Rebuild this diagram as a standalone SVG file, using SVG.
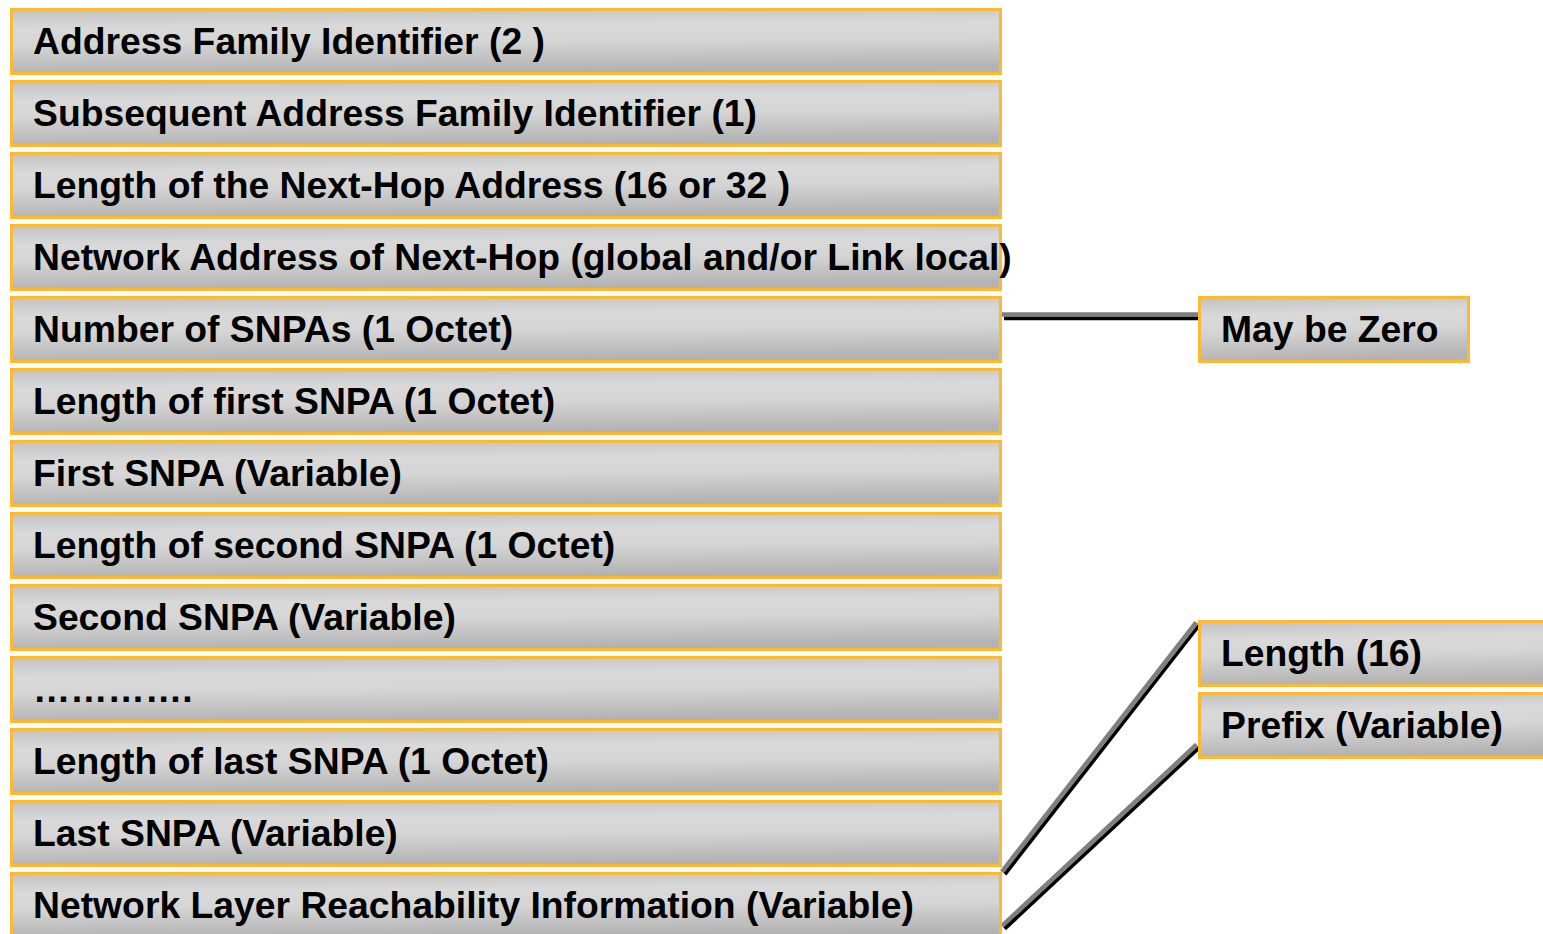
<svg xmlns="http://www.w3.org/2000/svg" width="1543" height="934" viewBox="0 0 1543 934">
<defs>
<linearGradient id="g" x1="0" y1="0" x2="0.12" y2="1">
<stop offset="0" stop-color="#c2c2c2"/>
<stop offset="0.3" stop-color="#d9d9d9"/>
<stop offset="0.55" stop-color="#d5d5d5"/>
<stop offset="1" stop-color="#b3b3b3"/>
</linearGradient>
<style>
.b{fill:url(#g);stroke:#fdb834;stroke-width:3}
.t{font-family:"Liberation Sans",Arial,sans-serif;font-weight:bold;font-size:37.3px;fill:#000}
.sg{stroke:#7f7f7f;stroke-width:4.5;fill:none}
.sk{stroke:#000;stroke-width:3.5;fill:none}
</style>
</defs>
<rect width="1543" height="934" fill="#fff"/>
<g id="connectors">
<line class="sg" x1="1002" y1="314.5" x2="1198" y2="314.5"/>
<line class="sk" x1="1004" y1="318.5" x2="1198" y2="318.5"/>
<line class="sg" x1="1001.8" y1="871.8" x2="1196.2" y2="622.3"/>
<line class="sk" x1="1005" y1="874.3" x2="1199" y2="625.5"/>
<line class="sg" x1="1002" y1="926" x2="1196.6" y2="744.5"/>
<line class="sk" x1="1004.7" y1="928.9" x2="1199.3" y2="747.6"/>
</g>
<g id="n1"><rect class="b" x="11.5" y="9.5" width="989" height="64"/><text class="t" x="33" y="54">Address Family Identifier (2 )</text></g>
<g id="n2"><rect class="b" x="11.5" y="81.5" width="989" height="64"/><text class="t" x="33" y="126">Subsequent Address Family Identifier (1)</text></g>
<g id="n3"><rect class="b" x="11.5" y="153.5" width="989" height="64"/><text class="t" x="33" y="198">Length of the Next-Hop Address (16 or 32 )</text></g>
<g id="n4"><rect class="b" x="11.5" y="225.5" width="989" height="64"/><text class="t" x="33" y="270">Network Address of Next-Hop (global and/or Link local)</text></g>
<g id="n5"><rect class="b" x="11.5" y="297.5" width="989" height="64"/><text class="t" x="33" y="342">Number of SNPAs (1 Octet)</text></g>
<g id="n6"><rect class="b" x="11.5" y="369.5" width="989" height="64"/><text class="t" x="33" y="414">Length of first SNPA (1 Octet)</text></g>
<g id="n7"><rect class="b" x="11.5" y="441.5" width="989" height="64"/><text class="t" x="33" y="486">First SNPA (Variable)</text></g>
<g id="n8"><rect class="b" x="11.5" y="513.5" width="989" height="64"/><text class="t" x="33" y="558">Length of second SNPA (1 Octet)</text></g>
<g id="n9"><rect class="b" x="11.5" y="585.5" width="989" height="64"/><text class="t" x="33" y="630">Second SNPA (Variable)</text></g>
<g id="n10"><rect class="b" x="11.5" y="657.5" width="989" height="64"/><text class="t" x="33" y="702">………….</text></g>
<g id="n11"><rect class="b" x="11.5" y="729.5" width="989" height="64"/><text class="t" x="33" y="774">Length of last SNPA (1 Octet)</text></g>
<g id="n12"><rect class="b" x="11.5" y="801.5" width="989" height="64"/><text class="t" x="33" y="846">Last SNPA (Variable)</text></g>
<g id="n13"><rect class="b" x="11.5" y="873.5" width="989" height="64"/><text class="t" x="33" y="918">Network Layer Reachability Information (Variable)</text></g>
<g id="zero"><rect class="b" x="1199.5" y="297.5" width="269" height="64"/><text class="t" x="1221" y="342">May be Zero</text></g>
<g id="len"><rect class="b" x="1199.5" y="621.5" width="360" height="64"/><text class="t" x="1221" y="666">Length (16)</text></g>
<g id="prefix"><rect class="b" x="1199.5" y="693.5" width="360" height="64"/><text class="t" x="1221" y="738">Prefix (Variable)</text></g>
</svg>
